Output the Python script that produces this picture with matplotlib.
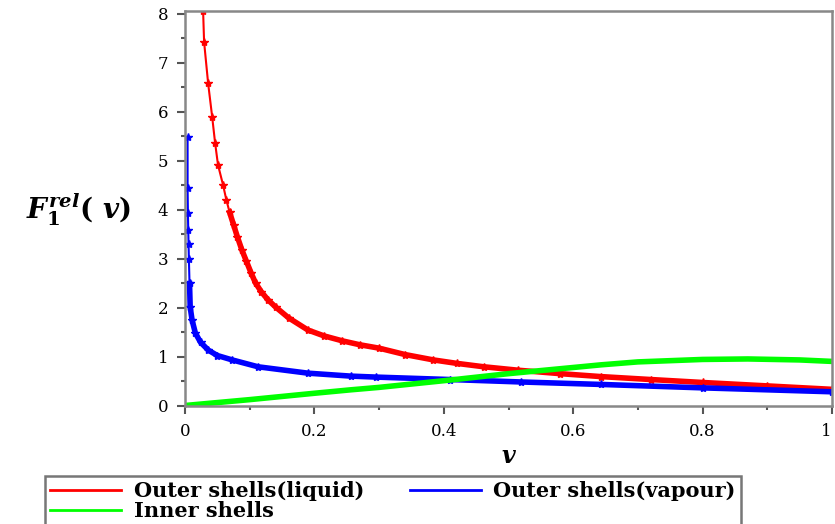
import matplotlib.pyplot as plt
from matplotlib.ticker import MultipleLocator

plt.rcParams['font.family'] = 'DejaVu Serif'
plt.rcParams['mathtext.fontset'] = 'custom'
plt.rcParams['mathtext.it'] = 'DejaVu Serif:bold:italic'
plt.rcParams['mathtext.rm'] = 'DejaVu Serif:bold'
plt.rcParams['mathtext.bf'] = 'DejaVu Serif:bold'

# values
v_liquid = [0.028, 0.0295, 0.0357, 0.042, 0.0465, 0.051, 0.059, 0.064, 0.069,
            0.075, 0.081, 0.088, 0.095, 0.102, 0.109, 0.118, 0.128, 0.14, 0.16,
            0.19, 0.215, 0.243, 0.27, 0.30, 0.34, 0.384, 0.42, 0.462, 0.515,
            0.58, 0.643, 0.72, 0.80, 0.90, 1.0]
f_liquid = [8.06, 7.43, 6.59, 5.9, 5.37, 4.92, 4.5, 4.2, 3.95,
            3.7, 3.45, 3.18, 2.95, 2.72, 2.51, 2.33, 2.17, 2.02, 1.8,
            1.55, 1.43, 1.33, 1.25, 1.18, 1.05, 0.94, 0.87, 0.80, 0.73,
            0.66, 0.60, 0.54, 0.48, 0.41, 0.34]

v_vapour = [0.004, 0.004, 0.0045, 0.005, 0.0055, 0.006, 0.007, 0.008, 0.011,
            0.016, 0.024, 0.036, 0.05, 0.073, 0.113, 0.19, 0.256, 0.295, 0.41,
            0.52, 0.643, 0.8, 1.0]
f_vapour = [5.49, 4.45, 3.94, 3.6, 3.3, 3.0, 2.5, 2.02, 1.75,
            1.49, 1.3, 1.14, 1.03, 0.94, 0.80, 0.67, 0.61, 0.59, 0.54,
            0.49, 0.44, 0.37, 0.29]

v_inner = [0.0, 0.1, 0.2, 0.256, 0.3, 0.41, 0.5, 0.643, 0.7, 0.8, 0.87, 0.95, 1.0]
f_inner = [0.01, 0.13, 0.26, 0.33, 0.38, 0.53, 0.66, 0.84, 0.90, 0.95, 0.96, 0.94, 0.91]

labels = ['Outer shells(liquid)', 'Outer shells(vapour)', 'Inner shells']
colors = ['#ff0000', '#0000ff', '#00ff00']

fig = plt.figure(figsize=(8.35, 5.24), dpi=100)
ax = fig.add_axes([185 / 835, 1 - 406 / 524, 647 / 835, 395 / 524])

# thin line with star markers, thick line where the markers get dense
l1, = ax.plot(v_liquid, f_liquid, color=colors[0], lw=1.5, marker='*', ms=6, label=labels[0])
ax.plot(v_liquid[8:], f_liquid[8:], color=colors[0], lw=4)
l2, = ax.plot(v_vapour, f_vapour, color=colors[1], lw=1.5, marker='*', ms=6, label=labels[1])
ax.plot(v_vapour[6:], f_vapour[6:], color=colors[1], lw=4)
l3, = ax.plot(v_inner, f_inner, color=colors[2], lw=4, label=labels[2])

ax.set_xlim(0, 1.0)
ax.set_ylim(0, 8.06)
ax.xaxis.set_minor_locator(MultipleLocator(0.1))
ax.yaxis.set_major_locator(MultipleLocator(1))
ax.yaxis.set_minor_locator(MultipleLocator(0.5))
ax.set_xticks([0, 0.2, 0.4, 0.6, 0.8, 1.0])
ax.set_xticklabels(['0', '0.2', '0.4', '0.6', '0.8', '1'])
ax.get_xticklabels()[-1].set_ha('right')  # keep the last label inside the figure
ax.tick_params(which='both', direction='out', color='#555555', width=1.5, labelsize=12)
ax.tick_params(which='major', length=6, pad=6)
ax.tick_params(which='minor', length=3)
for s in ax.spines.values():
    s.set_color('#888888')
    s.set_linewidth(1.8)

ax.set_xlabel(r'$v$', fontsize=17, labelpad=4)
fig.text(78 / 835, 1 - 210 / 524, r'$F_{1}^{rel}(\ v)$', fontsize=20,
         ha='center', va='center')

# matplotlib fills legend columns first, so order handles to get two per row
leg = fig.legend([l1, l3, l2], [labels[0], labels[2], labels[1]],
                 loc='upper left', bbox_to_anchor=(45 / 835, 1 - 476 / 524), ncol=2,
                 prop={'family': 'DejaVu Serif', 'weight': 'bold', 'size': 15},
                 handlelength=3.4, handletextpad=0.6, columnspacing=2.2,
                 borderaxespad=0, borderpad=0.25, labelspacing=0.0,
                 fancybox=False, framealpha=1, edgecolor='#777777')
leg.get_frame().set_linewidth(1.8)
for h in leg.legend_handles:
    h.set_marker('')
    h.set_linewidth(2)

fig.savefig('out.png', dpi=100)
